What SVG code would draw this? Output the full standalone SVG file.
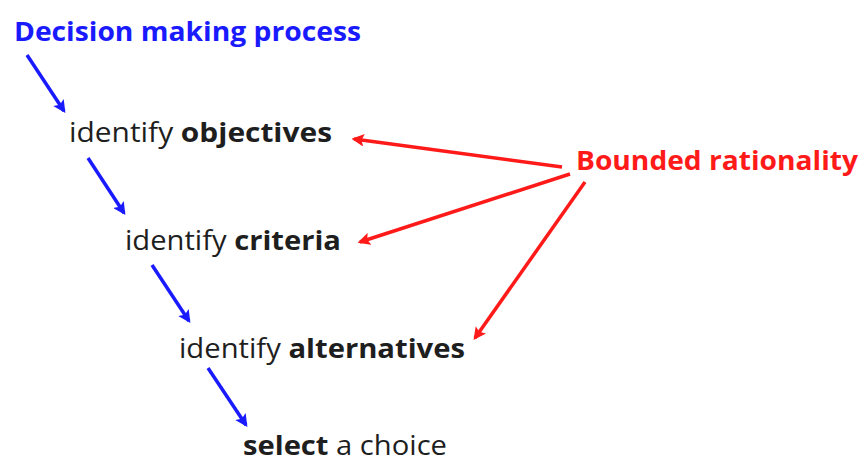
<svg xmlns="http://www.w3.org/2000/svg" width="865" height="463" viewBox="0 0 865 463">
  <style>
    text { font-family: "Open Sans", "Noto Sans", "Liberation Sans", sans-serif; font-size: 27px; }
    .step { fill: #1e1e1e; }
    .b { font-weight: bold; }
    .title { fill: #1a1aff; font-weight: bold; }
    .bound { fill: #ff1a1a; font-weight: bold; }
    .flow { stroke: #1a1aff; stroke-width: 3.5; fill: none; marker-end: url(#headBlue); }
    .limit { stroke: #ff1a1a; stroke-width: 3.5; fill: none; marker-end: url(#headRed); }
  </style>
  <defs>
    <marker id="headBlue" viewBox="0 0 10 10" refX="8" refY="5" markerWidth="3.6" markerHeight="3.6" orient="auto" markerUnits="strokeWidth">
      <path d="M0,0 L10,5 L0,10 L2,5 Z" fill="#1a1aff"/>
    </marker>
    <marker id="headRed" viewBox="0 0 10 10" refX="8" refY="5" markerWidth="3.6" markerHeight="3.6" orient="auto" markerUnits="strokeWidth">
      <path d="M0,0 L10,5 L0,10 L2,5 Z" fill="#ff1a1a"/>
    </marker>
  </defs>
  <rect width="865" height="463" fill="#ffffff"/>

  <g id="title">
    <text class="title" x="14" y="41" textLength="347" lengthAdjust="spacingAndGlyphs">Decision making process</text>
  </g>
  <g id="objectives">
    <text class="step" x="69" y="142" textLength="263" lengthAdjust="spacingAndGlyphs">identify <tspan class="b">objectives</tspan></text>
  </g>
  <g id="criteria">
    <text class="step" x="125" y="250" textLength="216" lengthAdjust="spacingAndGlyphs">identify <tspan class="b">criteria</tspan></text>
  </g>
  <g id="alternatives">
    <text class="step" x="179" y="358" textLength="286" lengthAdjust="spacingAndGlyphs">identify <tspan class="b">alternatives</tspan></text>
  </g>
  <g id="choice">
    <text class="step" x="243" y="455" textLength="204" lengthAdjust="spacingAndGlyphs"><tspan class="b">select</tspan> a choice</text>
  </g>
  <g id="bounded">
    <text class="bound" x="576" y="170" textLength="282" lengthAdjust="spacingAndGlyphs">Bounded rationality</text>
  </g>

  <g id="connectors">
    <line class="flow" x1="27" y1="55" x2="64" y2="111"/>
    <line class="flow" x1="88" y1="158" x2="124" y2="213"/>
    <line class="flow" x1="152" y1="265" x2="189" y2="321"/>
    <line class="flow" x1="208" y1="368" x2="246" y2="425"/>
    <line class="limit" x1="562" y1="167" x2="354" y2="139"/>
    <line class="limit" x1="570" y1="174" x2="360" y2="242"/>
    <line class="limit" x1="585" y1="182" x2="475" y2="338"/>
  </g>
</svg>
